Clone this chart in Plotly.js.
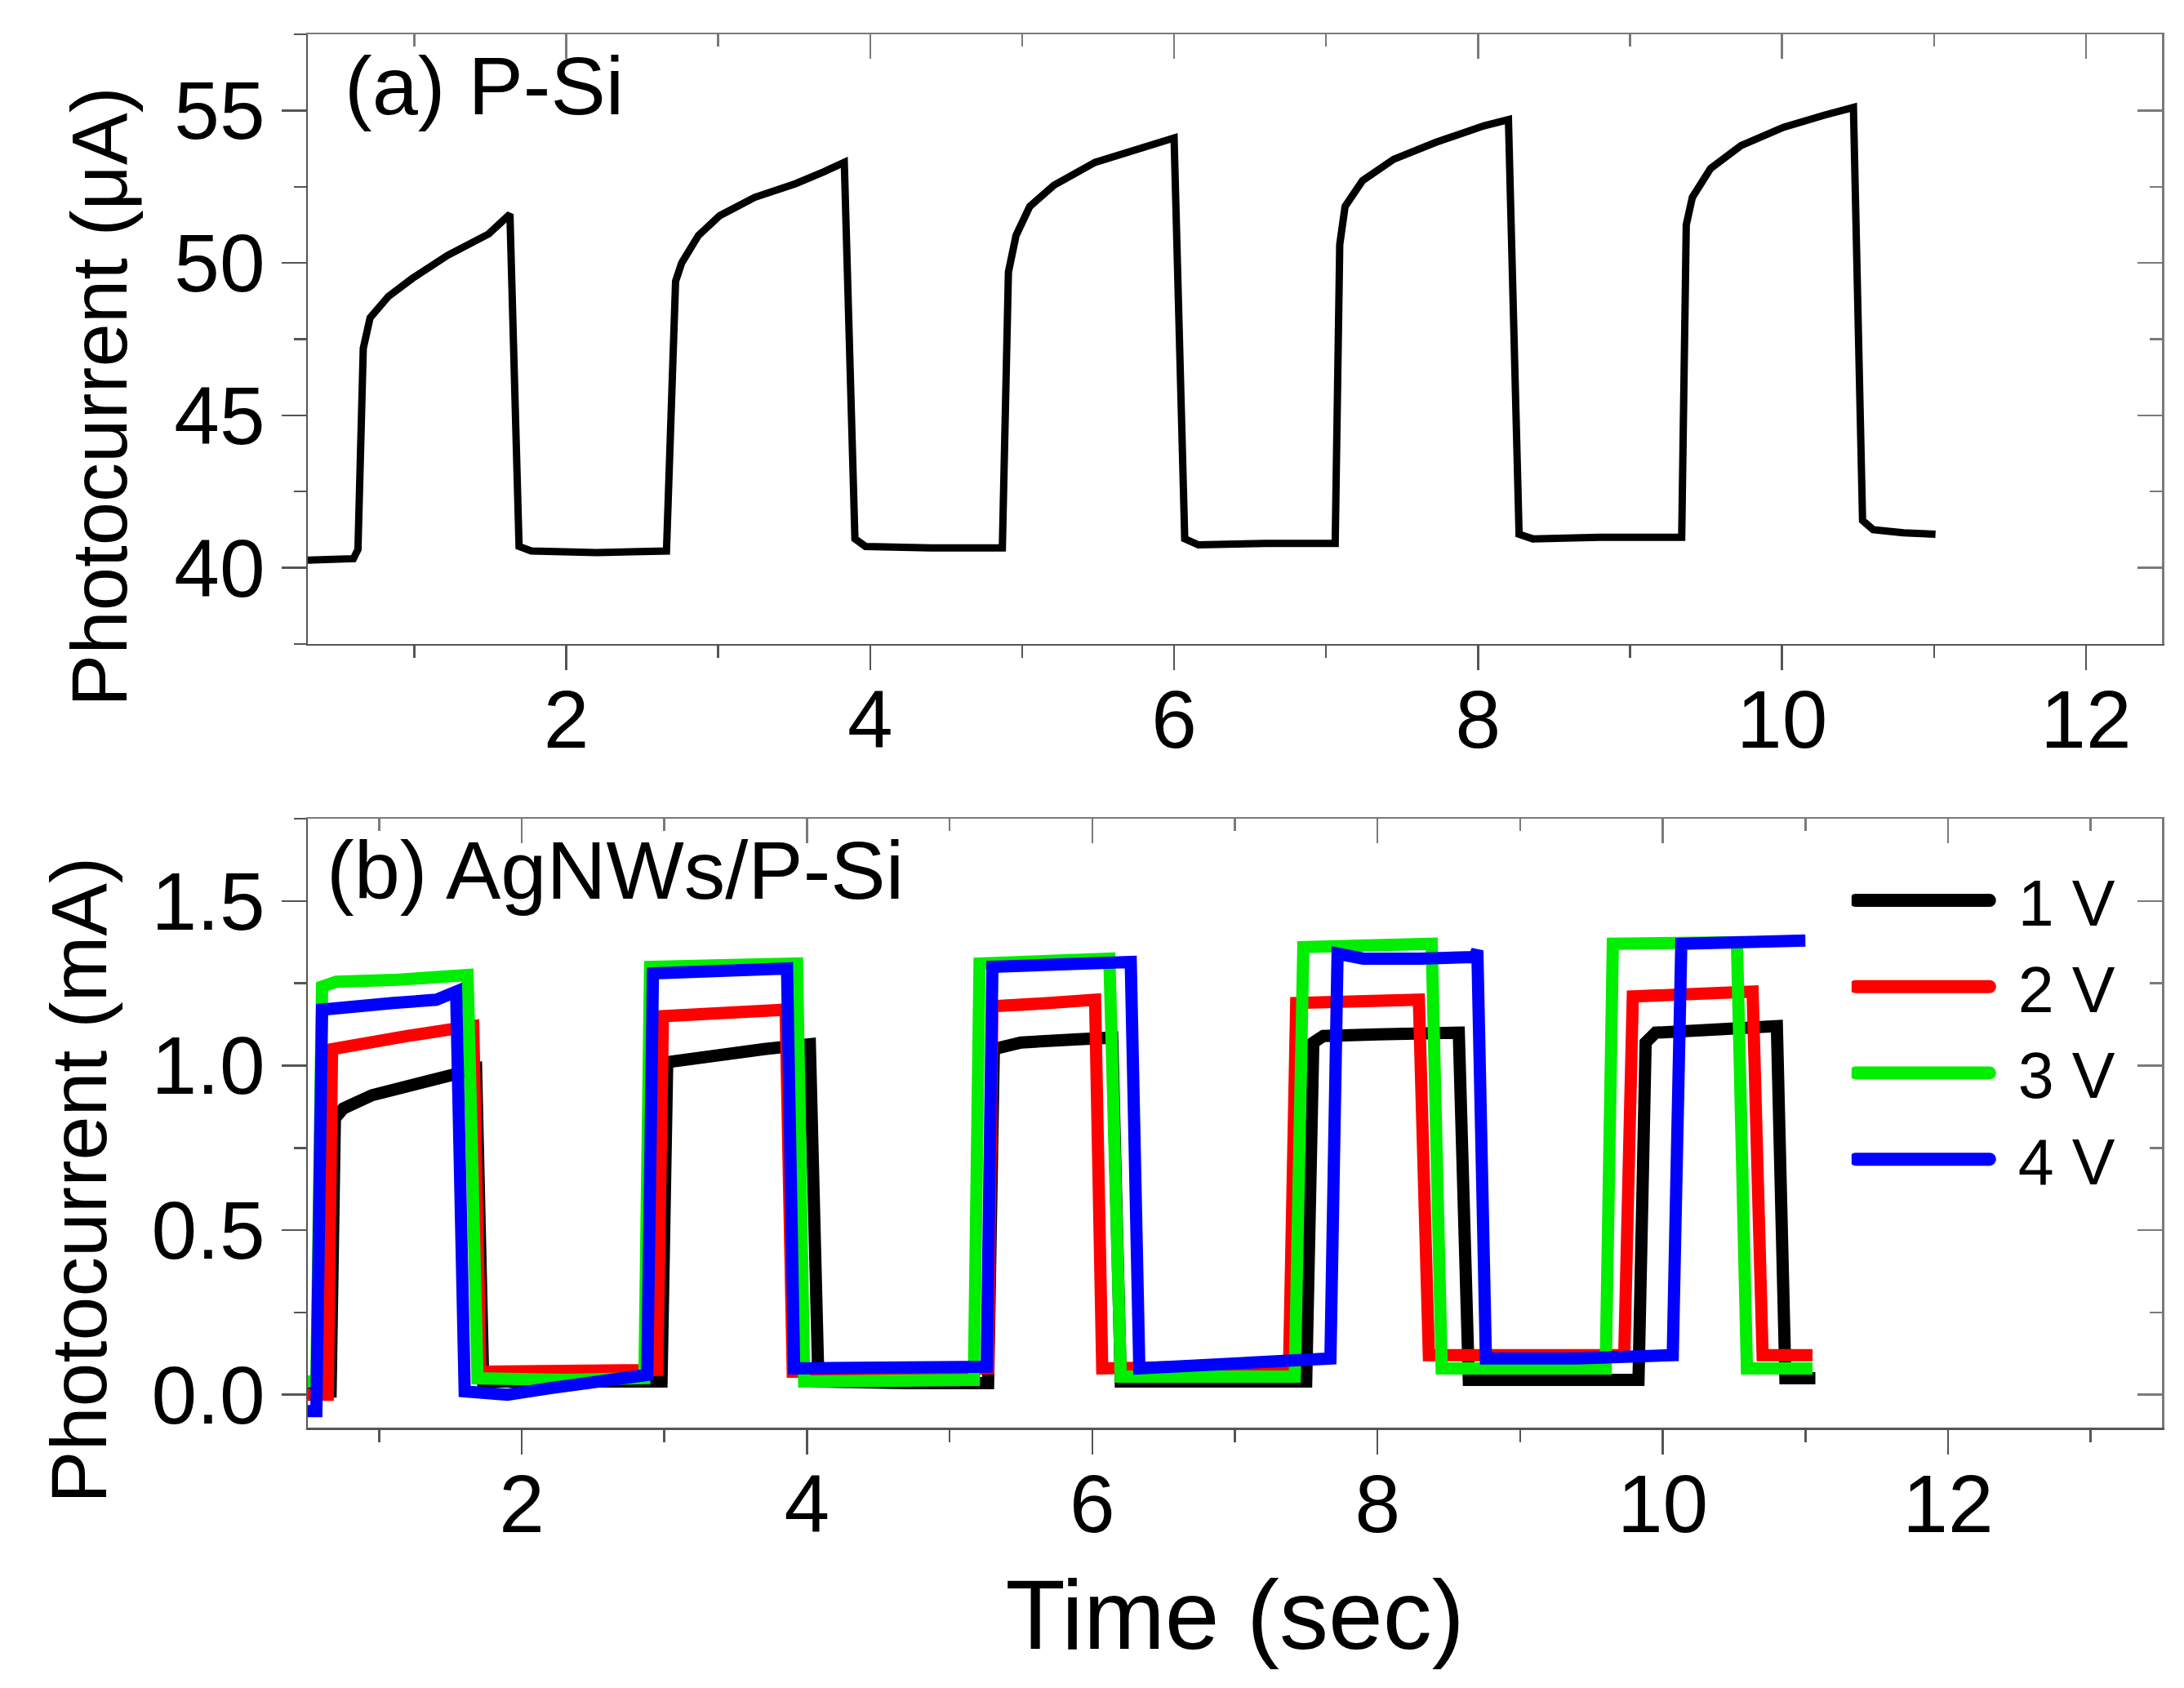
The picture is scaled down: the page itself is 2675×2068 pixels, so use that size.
<!DOCTYPE html>
<html>
<head>
<meta charset="utf-8">
<script src="https://cdn.plot.ly/plotly-3.0.1.min.js"></script>
<style>
  html, body { margin: 0; padding: 0; background: white; }
  #chart { width: 2675px; height: 2068px; }
</style>
</head>
<body>
<div id="chart"></div>
<script>
// (a) P-Si photocurrent (sec, uA)
const timeA = [0.30, 0.45, 0.60, 0.63, 0.665, 0.71, 0.83, 0.99, 1.22, 1.49, 1.63, 1.69, 1.77, 2.20, 2.66,
               2.72, 2.76, 2.87, 3.01, 3.24, 3.51, 3.70, 3.83, 3.90, 3.97, 4.40, 4.87,
               4.91, 4.96, 5.05, 5.21, 5.48, 5.75, 6.00, 6.07, 6.16, 6.60, 7.06,
               7.09, 7.125, 7.24, 7.445, 7.72, 8.04, 8.20, 8.27, 8.36, 8.80, 9.34,
               9.37, 9.41, 9.53, 9.73, 10.01, 10.28, 10.47, 10.53, 10.60, 10.80, 11.01];
const currentA = [40.25, 40.30, 40.30, 40.60, 47.2, 48.2, 48.9, 49.5, 50.25, 50.95, 51.6, 40.7, 40.55, 40.50, 40.55,
                  49.4, 50.0, 50.9, 51.55, 52.15, 52.6, 53.0, 53.3, 40.95, 40.70, 40.65, 40.65,
                  49.7, 50.9, 51.85, 52.55, 53.3, 53.7, 54.1, 40.95, 40.75, 40.80, 40.80,
                  50.6, 51.85, 52.7, 53.4, 53.95, 54.5, 54.7, 41.1, 40.95, 41.0, 41.0,
                  51.25, 52.15, 53.1, 53.85, 54.45, 54.85, 55.1, 41.55, 41.25, 41.15, 41.10];

// (b) AgNWs/P-Si photocurrent at four biases (sec, mA)
const time1V = [0.50, 0.66, 0.69, 0.75, 0.95, 1.20, 1.50, 1.68, 1.73, 2.30, 2.98,
                3.02, 3.30, 3.70, 4.02, 4.08, 4.70, 5.27,
                5.31, 5.50, 5.90, 6.14, 6.20, 6.90, 7.50,
                7.55, 7.62, 8.00, 8.57, 8.64, 9.20, 9.83,
                9.88, 9.95, 10.40, 10.80, 10.86, 11.07];
const current1V = [0.01, 0.01, 0.84, 0.87, 0.91, 0.94, 0.975, 0.99, 0.04, 0.04, 0.04,
                   1.01, 1.03, 1.05, 1.065, 0.04, 0.035, 0.035,
                   1.05, 1.07, 1.08, 1.085, 0.04, 0.04, 0.04,
                   1.07, 1.09, 1.095, 1.10, 0.045, 0.045, 0.045,
                   1.07, 1.10, 1.11, 1.12, 0.05, 0.05];

const time2V = [0.50, 0.64, 0.67, 0.90, 1.20, 1.50, 1.66, 1.71, 2.30, 2.95,
                2.99, 3.40, 3.85, 3.90, 4.60, 5.27,
                5.30, 5.70, 6.02, 6.07, 6.80, 7.38,
                7.43, 7.90, 8.29, 8.36, 9.00, 9.73,
                9.79, 10.20, 10.63, 10.70, 11.05];
const current2V = [0.0, 0.0, 1.05, 1.07, 1.09, 1.11, 1.12, 0.07, 0.07, 0.075,
                   1.15, 1.16, 1.17, 0.07, 0.07, 0.08,
                   1.18, 1.19, 1.20, 0.08, 0.09, 0.09,
                   1.19, 1.20, 1.20, 0.12, 0.12, 0.12,
                   1.21, 1.22, 1.225, 0.12, 0.12];

const time3V = [0.50, 0.56, 0.60, 0.70, 1.10, 1.50, 1.62, 1.69, 2.30, 2.86,
                2.90, 3.40, 3.93, 3.98, 4.60, 5.17,
                5.21, 5.70, 6.12, 6.20, 6.90, 7.42,
                7.48, 7.90, 8.38, 8.45, 9.00, 9.60,
                9.65, 10.10, 10.52, 10.59, 11.05];
const current3V = [0.04, 0.04, 1.24, 1.255, 1.26, 1.27, 1.275, 0.05, 0.045, 0.05,
                   1.30, 1.305, 1.31, 0.04, 0.04, 0.045,
                   1.31, 1.32, 1.325, 0.055, 0.05, 0.055,
                   1.36, 1.365, 1.37, 0.08, 0.08, 0.08,
                   1.37, 1.375, 1.375, 0.08, 0.08];

const time4V = [0.50, 0.56, 0.60, 0.80, 1.10, 1.40, 1.54, 1.60, 1.90, 2.20, 2.50, 2.88,
                2.92, 3.40, 3.86, 3.91, 4.50, 5.26,
                5.30, 5.80, 6.27, 6.33, 6.90, 7.67,
                7.72, 7.90, 8.30, 8.68, 8.70, 8.76, 9.40, 10.07,
                10.13, 10.50, 11.00];
const current4V = [-0.05, -0.05, 1.17, 1.18, 1.19, 1.20, 1.225, 0.01, 0.0, 0.02, 0.04, 0.06,
                   1.28, 1.29, 1.295, 0.08, 0.08, 0.085,
                   1.30, 1.31, 1.315, 0.08, 0.09, 0.11,
                   1.34, 1.325, 1.325, 1.33, 1.35, 0.11, 0.11, 0.12,
                   1.37, 1.375, 1.38];

const biasLabels = ['1 V', '2 V', '3 V', '4 V'];
const biasColors = ['#000000', '#ff0000', '#00ee00', '#0000ff'];

const FONT = 'Liberation Sans, Arial, sans-serif';
const axisColor = '#555555';
const mirrorColor = '#7a7a7a';

// left / bottom axes: ticks point out
function mainAxis(range, dtick, minorDtick, extra) {
    return Object.assign({
        range: range,
        showgrid: false, zeroline: false,
        showline: true, linecolor: axisColor, linewidth: 2.5,
        ticks: 'outside', ticklen: 30, tickwidth: 2.5, tickcolor: axisColor,
        tick0: 0, dtick: dtick,
        minor: {ticks: 'outside', ticklen: 15, tickwidth: 2.5, tickcolor: axisColor,
                tick0: 0, dtick: minorDtick, showgrid: false},
        tickfont: {family: FONT, size: 100, color: 'black'}
    }, extra);
}

// top / right axes: only ticks, pointing in
function mirrorAxis(range, dtick, minorDtick, extra) {
    return Object.assign({
        range: range,
        showgrid: false, zeroline: false, showticklabels: false,
        showline: true, linecolor: mirrorColor, linewidth: 2.5,
        ticks: 'inside', ticklen: 30, tickwidth: 2.5, tickcolor: mirrorColor,
        tick0: 0, dtick: dtick,
        minor: {ticks: 'inside', ticklen: 15, tickwidth: 2.5, tickcolor: mirrorColor,
                tick0: 0, dtick: minorDtick, showgrid: false}
    }, extra);
}

const seriesB = [[time1V, current1V], [time2V, current2V], [time3V, current3V], [time4V, current4V]];

const traces = [{
    x: timeA, y: currentA, xaxis: 'x', yaxis: 'y',
    type: 'scatter', mode: 'lines',
    line: {color: 'black', width: 9},
    showlegend: false, name: 'P-Si'
}];
seriesB.forEach(function(s, i) {
    traces.push({
        x: s[0], y: s[1], xaxis: 'x2', yaxis: 'y2',
        type: 'scatter', mode: 'lines',
        line: {color: biasColors[i], width: 15},
        name: biasLabels[i]
    });
});
// empty traces so the top/right tick axes get drawn
traces.push({x: [], y: [], xaxis: 'x3', yaxis: 'y3', type: 'scatter', mode: 'lines',
             showlegend: false, hoverinfo: 'skip'});
traces.push({x: [], y: [], xaxis: 'x4', yaxis: 'y4', type: 'scatter', mode: 'lines',
             showlegend: false, hoverinfo: 'skip'});

const layout = {
    width: 2675, height: 2068,
    margin: {l: 377, r: 27, t: 42, b: 319},
    paper_bgcolor: 'white', plot_bgcolor: 'white',
    font: {family: FONT, size: 100, color: 'black'},
    showlegend: true,
    legend: {x: 0.8326, xanchor: 'left', y: 0.4123, yanchor: 'top',
             font: {family: FONT, size: 79, color: 'black'},
             itemwidth: 194, bgcolor: 'rgba(0,0,0,0)', borderwidth: 0},
    xaxis: mainAxis([0.3, 12.5], 2, 1, {domain: [0, 1], anchor: 'y', ticklabelstandoff: -25}),
    yaxis: mainAxis([37.5, 57.5], 5, 2.5, {domain: [0.5624, 1], anchor: 'x'}),
    xaxis2: mainAxis([0.5, 13.5], 2, 1, {domain: [0, 1], anchor: 'y2', ticklabelstandoff: -25,
        title: {text: 'Time (sec)', font: {family: FONT, size: 120, color: 'black'}, standoff: 40}}),
    yaxis2: mainAxis([-0.1, 1.75], 0.5, 0.25, {domain: [0, 0.437], anchor: 'x2', tickformat: '.1f'}),
    xaxis3: mirrorAxis([0.3, 12.5], 2, 1, {overlaying: 'x', anchor: 'y3', side: 'top'}),
    yaxis3: mirrorAxis([37.5, 57.5], 5, 2.5, {overlaying: 'y', anchor: 'x3', side: 'right'}),
    xaxis4: mirrorAxis([0.5, 13.5], 2, 1, {overlaying: 'x2', anchor: 'y4', side: 'top'}),
    yaxis4: mirrorAxis([-0.1, 1.75], 0.5, 0.25, {overlaying: 'y2', anchor: 'x4', side: 'right'}),
    annotations: [
        {text: '(a) P-Si', xref: 'paper', yref: 'paper', x: 0.0189, y: 0.997,
         xanchor: 'left', yanchor: 'top', showarrow: false,
         font: {family: FONT, size: 101, color: 'black'}},
        {text: '(b) AgNWs/P-Si', xref: 'paper', yref: 'paper', x: 0.0092, y: 0.434,
         xanchor: 'left', yanchor: 'top', showarrow: false,
         font: {family: FONT, size: 101, color: 'black'}},
        {text: 'Photocurrent (\u03bcA)', xref: 'paper', yref: 'paper', x: -0.1123, y: 0.740,
         xanchor: 'center', yanchor: 'middle', textangle: -90, showarrow: false,
         font: {family: FONT, size: 96, color: 'black'}},
        {text: 'Photocurrent (mA)', xref: 'paper', yref: 'paper', x: -0.1237, y: 0.1775,
         xanchor: 'center', yanchor: 'middle', textangle: -90, showarrow: false,
         font: {family: FONT, size: 97, color: 'black'}}
    ]
};

Plotly.newPlot('chart', traces, layout, {staticPlot: true}).then(function(gd) {
    // legend swatches in the figure are thicker than plotly's 10px cap,
    // and stop short of the label
    gd.querySelectorAll('.legendlines path').forEach(function(p) {
        p.style.strokeWidth = '16px';
        p.style.strokeLinecap = 'round';
        p.style.strokeDasharray = '164 1000';
    });
});
</script>
</body>
</html>
